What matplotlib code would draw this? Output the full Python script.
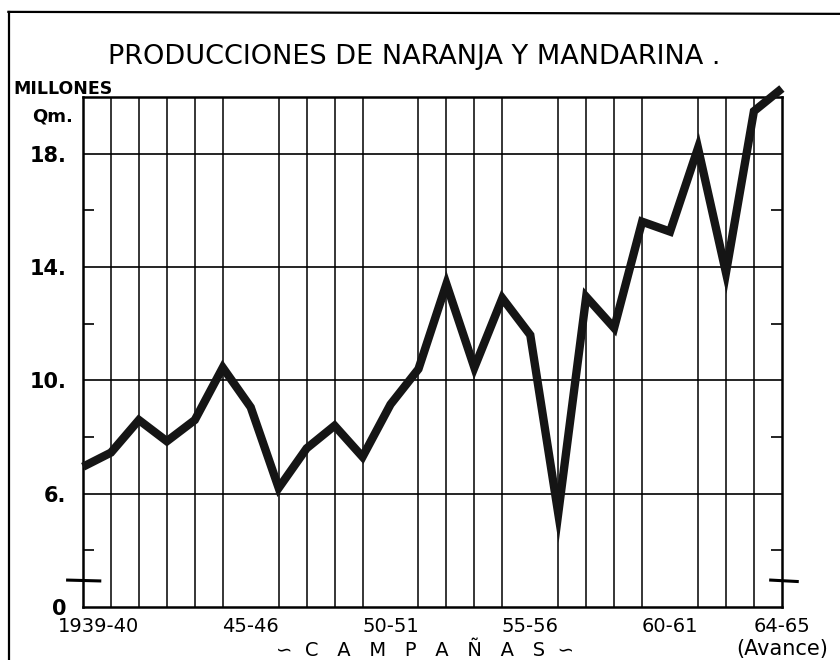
import numpy as np
import matplotlib
matplotlib.use("Agg")
import matplotlib.pyplot as plt
from matplotlib.lines import Line2D
import matplotlib.transforms as mtransforms

# ---- data ----
seasons = ["1939-40", "40-41", "41-42", "42-43", "43-44", "44-45", "45-46",
           "46-47", "47-48", "48-49", "49-50", "50-51", "51-52", "52-53",
           "53-54", "54-55", "55-56", "56-57", "57-58", "58-59", "59-60",
           "60-61", "61-62", "62-63", "63-64", "64-65"]
production = [6.95, 7.45, 8.6, 7.85, 8.6, 10.45, 9.05, 6.2, 7.6, 8.4, 7.3,
              9.15, 10.4, 13.4, 10.45, 12.9, 11.6, 5.3, 12.95, 11.85, 15.6,
              15.25, 18.2, 13.8, 19.5, 20.3]
labeled_seasons = ["1939-40", "45-46", "50-51", "55-56", "60-61", "64-65"]
ytick_values = [2, 6, 10, 14, 18]
ytick_labels = ["0", "6.", "10.", "14.", "18."]
minor_y = [4, 8, 12, 16]

plt.rcParams['font.family'] = ['DejaVu Sans']

fig = plt.figure(figsize=(8.4, 6.6), dpi=100)
ax = fig.add_axes([0.0988, 0.0803, 0.832, 0.7727])

x = np.arange(len(seasons))
ax.set_xlim(0, len(seasons) - 1)
ax.set_ylim(2, 20)

# vertical grid at every season
ax.set_xticks(x, minor=True)
ax.grid(True, which='minor', axis='x', color='black', linewidth=1.1)
# horizontal grid at labelled values
for v in ytick_values[1:]:
    ax.axhline(v, color='black', linewidth=1.2, zorder=1)

ax.plot(x, production, color='#151515', linewidth=6.0, solid_joinstyle='miter',
        solid_capstyle='butt', zorder=5, clip_on=False)

# x labels
xt = [seasons.index(s) for s in labeled_seasons]
ax.set_xticks(xt)
ax.set_xticklabels(labeled_seasons, fontsize=14)
ax.tick_params(axis='x', which='both', length=0, pad=7)
lbl0 = ax.get_xticklabels()[0]
lbl0.set_transform(lbl0.get_transform() + mtransforms.ScaledTranslation(0.16, 0, fig.dpi_scale_trans))

# y labels
ax.set_yticks(ytick_values)
ax.set_yticklabels(ytick_labels, fontsize=15, fontweight='bold')
ax.set_yticks(minor_y, minor=True)
ax.tick_params(axis='y', which='major', length=0, pad=12)
ax.tick_params(axis='y', which='minor', direction='in', length=8, width=1.2,
               left=True, right=True)

for sp in ax.spines.values():
    sp.set_linewidth(1.8)

# axis break marks
ax.plot([-0.55, 0.6], [2.95, 2.92], color='black', linewidth=2.2, clip_on=False, zorder=6)
ax.plot([24.6, 25.55], [2.95, 2.9], color='black', linewidth=2.2, clip_on=False, zorder=6)

# texts
fig.text(0.493, 0.913, "PRODUCCIONES DE NARANJA Y MANDARINA .", fontsize=19.5,
         ha='center', va='center')
fig.text(0.016, 0.865, "MILLONES", fontsize=12.5, fontweight='bold', ha='left', va='center')
fig.text(0.038, 0.823, "Qm.", fontsize=13, fontweight='bold', ha='left', va='center')
fig.text(0.506, 0.015, "\u223d  C   A   M   P   A   Ñ   A   S  \u223d", fontsize=14,
         ha='center', va='center')
fig.text(0.931, 0.017, "(Avance)", fontsize=15, ha='center', va='center')

# outer frame
fig.add_artist(Line2D([0.011, 0.011], [0.0, 0.982], color='black', linewidth=1.6))
fig.add_artist(Line2D([0.01, 1.0], [0.982, 0.979], color='black', linewidth=1.6))

fig.savefig("out.png", dpi=100)
